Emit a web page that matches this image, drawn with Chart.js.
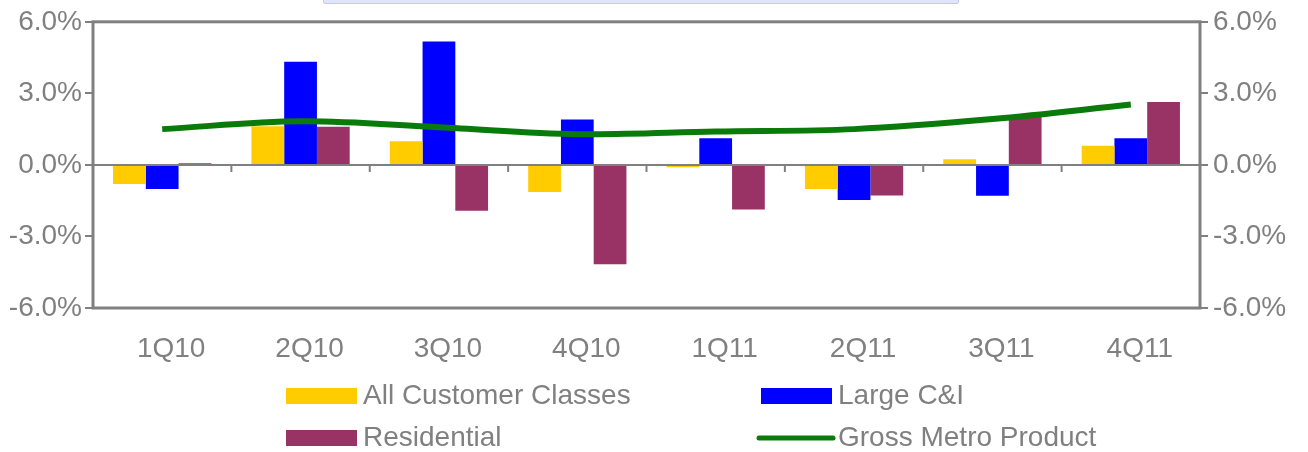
<!DOCTYPE html>
<html>
<head>
<meta charset="utf-8">
<title>Growth by customer class</title>
<script src="https://cdn.jsdelivr.net/npm/chart.js@4.4.1/dist/chart.umd.min.js"></script>
<style>
  body { margin: 0; background: #fff; }
  #wrap { position: relative; width: 1308px; height: 452px; overflow: hidden; }
  #tab { position: absolute; left: 323px; top: -4px; width: 634px; height: 6px;
         background: #e2e5f9; border: 1px solid #c4caf1; border-radius: 2px; }
</style>
</head>
<body>
<div id="wrap">
  <canvas id="graph" width="1308" height="452"></canvas>
  <div id="tab"></div>
</div>
<script>
// quarters and the growth rates (%) per series
var quarters = ['1Q10', '2Q10', '3Q10', '4Q10', '1Q11', '2Q11', '3Q11', '4Q11'];
var allClasses = [-0.80, 1.62, 0.99, -1.14, -0.10, -1.01, 0.24, 0.80];
var largeCI = [-1.01, 4.33, 5.17, 1.90, 1.12, -1.47, -1.29, 1.12];
var residential = [0.07, 1.60, -1.92, -4.17, -1.87, -1.28, 2.01, 2.64];
var grossMetro = [1.50, 1.83, 1.58, 1.29, 1.40, 1.50, 1.92, 2.53];
var yTicks = [-6, -3, 0, 3, 6];

var GREY = '#808080';
var FONT = { family: '"Liberation Sans", Arial, sans-serif', size: 28 };

function pct(v) { return v.toFixed(1) + '%'; }

// frame round the plot, zero line and the little category ticks under it
var framePlugin = {
    id: 'frame',
    afterDatasetsDraw: function (chart) {
        var ctx = chart.ctx, a = chart.chartArea;
        var x = chart.scales.x, y = chart.scales.y;
        var y0 = y.getPixelForValue(0);
        ctx.save();
        ctx.strokeStyle = GREY;
        ctx.lineWidth = 2;
        ctx.beginPath();
        ctx.moveTo(a.left, y0);
        ctx.lineTo(a.right, y0);
        for (var i = 1; i < quarters.length; i++) {
            var bx = (x.getPixelForValue(i - 1) + x.getPixelForValue(i)) / 2;
            ctx.moveTo(bx, y0);
            ctx.lineTo(bx, y0 + 7);
        }
        ctx.stroke();
        ctx.lineWidth = 3;
        ctx.strokeRect(a.left, a.top, a.right - a.left, a.bottom - a.top);
        ctx.restore();
    }
};

// two-column legend under the axis
var legendPlugin = {
    id: 'gridLegend',
    afterDraw: function (chart) {
        var ctx = chart.ctx;
        var cols = [286, 761], rows = [396, 438];
        ctx.save();
        ctx.font = FONT.size + 'px ' + FONT.family;
        ctx.textBaseline = 'middle';
        chart.data.datasets.forEach(function (ds, i) {
            var lx = cols[i % 2], ly = rows[Math.floor(i / 2)];
            if (ds.type === 'line') {
                ctx.strokeStyle = ds.borderColor;
                ctx.lineWidth = 5;
                ctx.lineCap = 'round';
                ctx.beginPath();
                ctx.moveTo(lx - 2, ly);
                ctx.lineTo(lx + 72, ly);
                ctx.stroke();
            } else {
                ctx.fillStyle = ds.backgroundColor;
                ctx.fillRect(lx, ly - 8, 71, 16);
            }
            ctx.fillStyle = GREY;
            ctx.fillText(ds.label, lx + 77, ly);
        });
        ctx.restore();
    }
};

function yAxis(pos, width, pad) {
    return {
        position: pos,
        min: -6, max: 6,
        afterBuildTicks: function (s) { s.ticks = yTicks.map(function (v) { return { value: v }; }); },
        afterFit: function (s) { s.width = width; },
        border: { display: false },
        grid: { drawOnChartArea: false, tickLength: 8, color: GREY, lineWidth: 2 },
        ticks: { color: GREY, font: FONT, padding: pad, callback: function (v) { return pct(v); } }
    };
}

new Chart(document.getElementById('graph'), {
    type: 'bar',
    data: {
        labels: quarters,
        datasets: [
            { label: 'All Customer Classes', data: allClasses, backgroundColor: '#FFCC00', order: 1 },
            { label: 'Large C&I', data: largeCI, backgroundColor: '#0000FF', order: 1 },
            { label: 'Residential', data: residential, backgroundColor: '#993366', order: 1 },
            { label: 'Gross Metro Product', data: grossMetro, type: 'line', borderColor: '#0A7A0A',
              borderWidth: 6, pointRadius: 0, tension: 0.35, fill: false, order: 0 }
        ]
    },
    options: {
        responsive: false,
        animation: false,
        layout: { padding: { top: 21, left: 0, right: 0, bottom: 0 } },
        datasets: { bar: { categoryPercentage: 0.71, barPercentage: 1.0 } },
        plugins: { legend: { display: false }, tooltip: { enabled: false } },
        scales: {
            x: {
                afterFit: function (s) { s.height = 144; },
                border: { display: false },
                grid: { display: false, drawTicks: false },
                ticks: { color: GREY, font: FONT, padding: 24, labelOffset: 9 }
            },
            y: yAxis('left', 93, 3),
            y2: yAxis('right', 108, 5)
        }
    },
    plugins: [framePlugin, legendPlugin]
});
</script>
</body>
</html>
